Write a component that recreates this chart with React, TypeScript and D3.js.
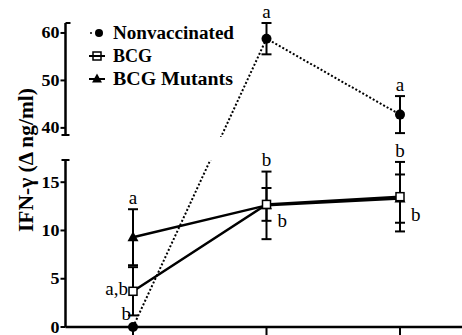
import React from "react";
import * as d3 from "d3";

const categories = ["T0", "T1", "T2"];
const nonvacMean = [0, 58.8, 42.8];
const nonvacErr = [0, 3.3, 3.9];
const bcgMean = [3.7, 12.7, 13.5];
const bcgErr = [2.5, 1.7, 3.6];
const mutMean = [9.3, 12.6, 13.3];
const mutErr = [2.9, 3.5, 2.5];
const topTicks = [40, 50, 60];
const bottomTicks = [0, 5, 10, 15];
const legendLabels = ["Nonvaccinated", "BCG", "BCG Mutants"];
const yLabel = "IFN-\u03b3 (\u0394 ng/ml)";

// significance letters: [category index, text, anchor value, placement]
const sigLetters: [number, string, number, string][] = [
  [1, "a", 62.1, "above"],
  [2, "a", 46.7, "above"],
  [0, "a", 12.2, "above"],
  [1, "b", 16.2, "above"],
  [2, "b", 17.1, "above"],
  [0, "a,b", 3.7, "left"],
  [0, "b", 1.2, "leftlow"],
  [1, "b", 12.6, "right"],
  [2, "b", 13.3, "right"],
];

const W = 462;
const H = 335;
const BREAK_LO = 17.3;
const BREAK_HI = 38.5;
const TOP_MAX = 62.1;

export default function App() {
  const x = d3.scaleLinear().domain([0, categories.length - 1]).range([133, 400]);
  const y = d3
    .scaleLinear()
    .domain([0, BREAK_LO, BREAK_HI, TOP_MAX])
    .range([327, 160, 135, 23]);
  const axisX = 65.5;
  const font = "'Liberation Serif', 'Times New Roman', serif";

  const line = d3
    .line<number>()
    .x((_, i) => x(i))
    .y((v) => y(v));

  const errBars = (means: number[], errs: number[], key: string) =>
    means.map((m, i) =>
      errs[i] > 0 ? (
        <g key={key + i} stroke="#000" strokeWidth={2}>
          <line x1={x(i)} x2={x(i)} y1={y(m - errs[i])} y2={y(m + errs[i])} />
          <line x1={x(i) - 5} x2={x(i) + 5} y1={y(m + errs[i])} y2={y(m + errs[i])} />
          <line x1={x(i) - 5} x2={x(i) + 5} y1={y(m - errs[i])} y2={y(m - errs[i])} />
        </g>
      ) : null
    );

  const tri = (cx: number, cy: number, s: number) =>
    `M${cx},${cy - s * 0.6}L${cx + s * 0.55},${cy + s * 0.4}L${cx - s * 0.55},${cy + s * 0.4}Z`;

  const tickLabel = (v: number, key: string) => (
    <text
      key={key}
      x={axisX - 6}
      y={y(v) + 5.5}
      textAnchor="end"
      fontFamily={font}
      fontWeight="bold"
      fontSize={17}
      textLength={String(v).length * 9}
      lengthAdjust="spacingAndGlyphs"
    >
      {v}
    </text>
  );

  return (
    <svg
      width={W}
      height={H}
      style={{ position: "absolute", left: 0, top: 0, background: "#fff" }}
    >
      <defs>
        <clipPath id="gapclip">
          <rect x={0} y={0} width={W} height={137} />
          <rect x={0} y={160} width={W} height={H - 160} />
        </clipPath>
      </defs>
      <rect width={W} height={H} fill="#fff" />

      {/* axes */}
      <g stroke="#000" strokeWidth={2.5} fill="none">
        <line x1={axisX} x2={axisX} y1={y(TOP_MAX)} y2={y(BREAK_HI)} />
        <line x1={axisX} x2={axisX} y1={y(BREAK_LO)} y2={y(0)} />
        <line x1={axisX} x2={axisX + 5} y1={y(TOP_MAX)} y2={y(TOP_MAX)} strokeWidth={2} />
        <line x1={axisX - 4} x2={axisX + 4} y1={y(BREAK_HI)} y2={y(BREAK_HI)} strokeWidth={2} />
        <line x1={axisX - 4} x2={axisX + 4} y1={y(BREAK_LO)} y2={y(BREAK_LO)} strokeWidth={2} />
        <line x1={axisX} x2={W} y1={y(0)} y2={y(0)} />
        {[...topTicks, ...bottomTicks].map((t) => (
          <line key={"t" + t} x1={axisX - 5} x2={axisX} y1={y(t)} y2={y(t)} strokeWidth={2} />
        ))}
        {categories.map((c, i) => (
          <line key={c} x1={x(i)} x2={x(i)} y1={y(0)} y2={y(0) + 8} strokeWidth={2} />
        ))}
      </g>
      {topTicks.map((t) => tickLabel(t, "tl" + t))}
      {bottomTicks.map((t) => tickLabel(t, "bl" + t))}

      <text
        transform={`translate(33, 160) rotate(-90)`}
        textAnchor="middle"
        fontFamily={font}
        fontWeight="bold"
        fontSize={21}
        textLength={144}
        lengthAdjust="spacingAndGlyphs"
      >
        {yLabel}
      </text>

      {/* series lines */}
      <path
        d={line(nonvacMean) || ""}
        fill="none"
        stroke="#000"
        strokeWidth={2}
        strokeDasharray="2 2"
        clipPath="url(#gapclip)"
      />
      <path d={line(mutMean) || ""} fill="none" stroke="#000" strokeWidth={2.5} />
      <path d={line(bcgMean) || ""} fill="none" stroke="#000" strokeWidth={2.5} />

      {errBars(nonvacMean, nonvacErr, "ne")}
      {errBars(bcgMean, bcgErr, "be")}
      {errBars(mutMean, mutErr, "me")}

      {nonvacMean.map((m, i) => (
        <circle key={"nc" + i} cx={x(i)} cy={y(m)} r={5} fill="#000" />
      ))}
      {mutMean.map((m, i) => (
        <path key={"mt" + i} d={tri(x(i), y(m), 10)} fill="#000" />
      ))}
      {bcgMean.map((m, i) => (
        <rect
          key={"bs" + i}
          x={x(i) - 4}
          y={y(m) - 4}
          width={8}
          height={8}
          fill="#fff"
          stroke="#000"
          strokeWidth={1.5}
        />
      ))}

      {/* significance letters */}
      {sigLetters.map(([i, t, v, p], k) => {
        let tx = x(i);
        let ty = y(v) - 5;
        let anchor = "middle";
        if (p === "left") {
          tx = x(i) - 5;
          ty = y(v) + 4;
          anchor = "end";
        } else if (p === "leftlow") {
          tx = x(i) - 2;
          ty = y(v) + 5;
          anchor = "end";
        } else if (p === "right") {
          tx = x(i) + 11;
          ty = y(v) + 22;
          anchor = "start";
        }
        return (
          <text
            key={"sl" + k}
            x={tx}
            y={ty}
            textAnchor={anchor}
            fontFamily={font}
            fontSize={19}
          >
            {t}
          </text>
        );
      })}

      {/* legend */}
      {legendLabels.map((lab, k) => {
        const ly = [33, 56, 79][k];
        return (
          <g key={"lg" + k}>
            {k === 0 && (
              <>
                <circle cx={91} cy={ly} r={1} fill="#000" />
                <circle cx={99} cy={ly} r={4} fill="#000" />
              </>
            )}
            {k === 1 && (
              <>
                <line x1={89} x2={105} y1={ly} y2={ly} stroke="#000" strokeWidth={2} />
                <rect x={93} y={ly - 4} width={8} height={8} fill="none" stroke="#000" strokeWidth={1.5} />
              </>
            )}
            {k === 2 && (
              <>
                <line x1={89} x2={105} y1={ly} y2={ly} stroke="#000" strokeWidth={2} />
                <path d={tri(97, ly, 9)} fill="#000" />
              </>
            )}
            <text
              x={113}
              y={ly + 6}
              fontFamily={font}
              fontWeight="bold"
              fontSize={18}
              textLength={[121, 39, 120][k]}
              lengthAdjust="spacingAndGlyphs"
            >
              {lab}
            </text>
          </g>
        );
      })}
    </svg>
  );
}
